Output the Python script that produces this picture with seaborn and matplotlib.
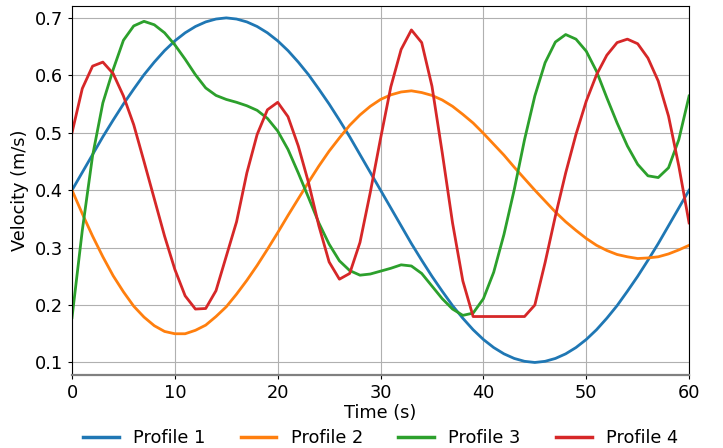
import numpy as np
import pandas as pd
import matplotlib
matplotlib.use("Agg")
import matplotlib.pyplot as plt
import seaborn as sns

time_s = list(range(0, 61))

profile_1 = [0.400, 0.431, 0.462, 0.493, 0.522, 0.550, 0.576, 0.601, 0.623, 0.643,
             0.660, 0.674, 0.685, 0.693, 0.698, 0.700, 0.698, 0.693, 0.685, 0.674,
             0.660, 0.643, 0.623, 0.601, 0.576, 0.550, 0.522, 0.493, 0.462, 0.431,
             0.400, 0.369, 0.338, 0.307, 0.278, 0.250, 0.224, 0.199, 0.177, 0.157,
             0.140, 0.126, 0.115, 0.107, 0.102, 0.100, 0.102, 0.107, 0.115, 0.126,
             0.140, 0.157, 0.177, 0.199, 0.224, 0.250, 0.278, 0.307, 0.338, 0.369,
             0.400]

profile_2 = [0.400, 0.359, 0.320, 0.284, 0.251, 0.223, 0.198, 0.179, 0.164, 0.154,
             0.150, 0.150, 0.156, 0.165, 0.180, 0.197, 0.219, 0.243, 0.269, 0.297,
             0.326, 0.356, 0.385, 0.414, 0.442, 0.468, 0.491, 0.513, 0.531, 0.546,
             0.558, 0.566, 0.571, 0.573, 0.570, 0.565, 0.557, 0.546, 0.532, 0.517,
             0.499, 0.480, 0.461, 0.440, 0.420, 0.400, 0.381, 0.362, 0.345, 0.330,
             0.316, 0.304, 0.295, 0.288, 0.284, 0.281, 0.282, 0.284, 0.289, 0.296,
             0.304]

profile_3 = [0.178, 0.330, 0.460, 0.552, 0.610, 0.661, 0.686, 0.694, 0.688, 0.674,
             0.653, 0.628, 0.601, 0.578, 0.565, 0.558, 0.553, 0.547, 0.539, 0.525,
             0.503, 0.471, 0.430, 0.387, 0.343, 0.306, 0.277, 0.260, 0.252, 0.254,
             0.259, 0.264, 0.270, 0.268, 0.255, 0.233, 0.211, 0.193, 0.182, 0.186,
             0.211, 0.257, 0.323, 0.401, 0.488, 0.564, 0.622, 0.658, 0.671, 0.663,
             0.642, 0.607, 0.561, 0.517, 0.477, 0.445, 0.425, 0.422, 0.439, 0.488,
             0.564]

profile_4 = [0.500, 0.577, 0.616, 0.623, 0.603, 0.564, 0.514, 0.450, 0.385, 0.320,
             0.262, 0.216, 0.193, 0.194, 0.225, 0.285, 0.345, 0.430, 0.497, 0.540,
             0.553, 0.528, 0.477, 0.413, 0.338, 0.275, 0.245, 0.255, 0.309, 0.396,
             0.490, 0.580, 0.645, 0.679, 0.657, 0.581, 0.465, 0.343, 0.242, 0.180,
             0.180, 0.180, 0.180, 0.180, 0.180, 0.200, 0.274, 0.355, 0.430, 0.497,
             0.555, 0.601, 0.635, 0.657, 0.663, 0.655, 0.630, 0.590, 0.529, 0.442,
             0.343]

series_names = ["Profile 1", "Profile 2", "Profile 3", "Profile 4"]
series_values = [profile_1, profile_2, profile_3, profile_4]

df = pd.concat(
    [pd.DataFrame({"Time (s)": time_s, "Velocity (m/s)": vals, "Profile": name})
     for name, vals in zip(series_names, series_values)],
    ignore_index=True,
)

plt.rcParams["font.family"] = ["DejaVu Sans"]
plt.rcParams["text.color"] = "black"
plt.rcParams["axes.labelcolor"] = "black"

fig = plt.figure(figsize=(7.23, 4.48), dpi=100)
ax = fig.add_axes([0.0996, 0.164, 0.8535, 0.823])

palette = ["#1f77b4", "#ff7f0e", "#2ca02c", "#d62728"]
sns.lineplot(data=df, x="Time (s)", y="Velocity (m/s)", hue="Profile",
             palette=palette, linewidth=2.0, ax=ax)

ax.set_xlim(0, 60)
ax.set_ylim(0.079, 0.721)
ax.set_xticks([0, 10, 20, 30, 40, 50, 60])
ax.set_yticks([0.1, 0.2, 0.3, 0.4, 0.5, 0.6, 0.7])
ax.grid(True, color="#b0b0b0", linewidth=0.8)
ax.set_axisbelow(True)
ax.tick_params(labelsize=12.8, colors="black", length=3)
ax.set_xlabel("Time (s)", fontsize=12.8, labelpad=2)
ax.set_ylabel("Velocity (m/s)", fontsize=12.8)
for s in ax.spines.values():
    s.set_visible(True)
    s.set_color("black")
    s.set_linewidth(0.8)
ax.spines["bottom"].set_color("#808080")
ax.spines["bottom"].set_linewidth(1.6)

leg = ax.legend(loc="center", bbox_to_anchor=(0.5, -0.173), ncol=4,
                frameon=False, fontsize=12.8, columnspacing=2.0, handlelength=2.0)
for line in leg.get_lines():
    line.set_linewidth(2.5)

fig.savefig("out.png", dpi=100)
